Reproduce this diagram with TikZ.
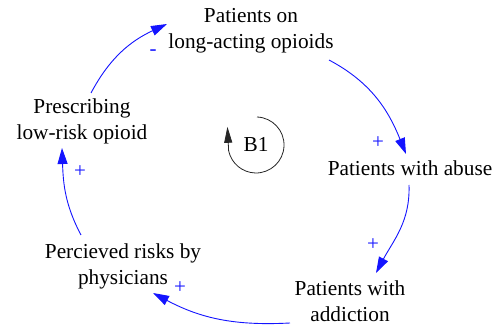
\documentclass[tikz,border=0pt]{standalone}
\usepackage{fontspec}
\setmainfont{Liberation Serif}
\usetikzlibrary{arrows.meta}
\definecolor{linkblue}{RGB}{20,20,255}
\tikzset{
  var/.style={align=center, inner sep=0pt, font=\fontsize{21.3}{26}\selectfont},
  link/.style={draw=linkblue, line width=0.9pt, -{Triangle[length=16pt,width=10pt]}},
  pol/.style={text=linkblue, inner sep=0pt, font=\fontsize{21}{21}\selectfont},
  loopmark/.style={draw=black!85, line width=0.8pt, -{Triangle[length=16pt,width=8pt]}}
}
\begin{document}
\begin{tikzpicture}[x=1pt,y=1pt]
\fill[white] (0,0) rectangle (495,331);
\useasboundingbox (0,0) rectangle (495,331);

\node[var] (top) at (251,300) {Patients on\\long-acting opioids};
\node[var] (presc) at (82,210) {Prescribing\\low-risk opioid};
\node[var] (abuse) at (410,163) {Patients with abuse};
\node[var] (addict) at (350,30) {Patients with\\addiction};
\node[var] (risk) at (123,65) {Percieved risks by\\physicians};
\node[var] (b1) at (256,186) {B1};

\draw[link] ([xshift=9pt,yshift=28pt]presc.center) to[out=62,in=205] ([xshift=-84pt,yshift=7pt]top.center);
\draw[link] ([xshift=78pt,yshift=-29pt]top.center) to[out=-28,in=112] ([xshift=-4pt,yshift=14pt]abuse.center);
\draw[link] ([xshift=-1pt,yshift=-17pt]abuse.center) to[out=-88,in=62] ([xshift=26pt,yshift=28pt]addict.center);
\draw[link] ([xshift=-60pt,yshift=-22pt]addict.center) to[out=183,in=-28] ([xshift=30pt,yshift=-27pt]risk.center);
\draw[link] ([xshift=-42pt,yshift=31pt]risk.center) to[out=118,in=-88] ([xshift=-20pt,yshift=-27pt]presc.center);

\node[pol] (m1) at (153,278) {-};
\node[pol] (p1) at (378,188) {+};
\node[pol] (p2) at (373,86) {+};
\node[pol] (p3) at (180,43) {+};
\node[pol] (p4) at (80,159) {+};

\draw[loopmark] ([xshift=1pt,yshift=28pt]b1.center) arc[start angle=88, end angle=-168, radius=28] -- ++(-1.2,24);
\end{tikzpicture}
\end{document}
